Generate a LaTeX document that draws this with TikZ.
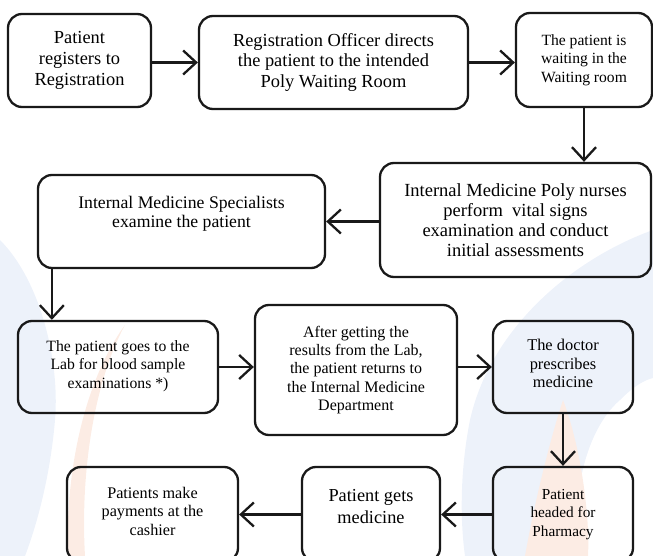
\documentclass[tikz,border=0pt]{standalone}
\usepackage{fontspec}
\setmainfont{Liberation Serif}
\newfontfamily\tnr{Liberation Serif}
\usetikzlibrary{arrows.meta,calc}
\definecolor{wmblue}{RGB}{237,242,250}
\definecolor{wmorange}{RGB}{252,236,228}
\tikzset{
  box/.style={draw=black!90, line width=2.3pt, rounded corners=14pt, align=center, inner sep=0pt},
  flow/.style={draw=black!90, line width=2.3pt, -{Straight Barb[length=13pt,width=24pt]}},
}
\newcommand{\fs}[2]{\tnr\fontsize{#1}{#2}\selectfont}
\begin{document}
\begin{tikzpicture}[x=1pt,y=-1pt]
\useasboundingbox (0,0) rectangle (653,556);
% faint background watermark
\fill[wmblue] (0,240) .. controls (40,280) and (60,360) .. (55,420) .. controls (50,480) and (35,530) .. (25,556) -- (0,556) -- cycle;
\fill[wmorange] (125,325) .. controls (95,380) and (80,470) .. (85,556) -- (68,556) .. controls (65,470) and (85,380) .. cycle;
\fill[wmblue] (653,230) .. controls (570,260) and (490,330) .. (470,420) .. controls (460,470) and (460,520) .. (465,556) -- (580,556) .. controls (570,500) and (585,430) .. (620,400) .. controls (635,385) and (645,380) .. (653,378) -- cycle;
\fill[wmorange] (563,400) .. controls (582,450) and (590,520) .. (588,556) -- (525,556) .. controls (535,500) and (550,440) .. cycle;
% boxes
\node[box,font=\fs{18.4}{21},minimum width=143pt,minimum height=93pt] (b1) at (79.5,60.5) {Patient\\registers to\\Registration};
\node[box,font=\fs{18.4}{20.3},minimum width=269pt,minimum height=93pt] (b2) at (333.5,62.5) {Registration Officer directs\\the patient to the intended\\Poly Waiting Room};
\node[box,font=\fs{15.6}{18.3},minimum width=136pt,minimum height=94pt] (b3) at (584,60) {The patient is\\waiting in the\\Waiting room};
\node[box,font=\fs{18.5}{20},minimum width=271pt,minimum height=114pt] (b4) at (515.5,220) {Internal Medicine Poly nurses\\perform~ vital signs\\examination and conduct\\initial assessments};
\node[box,font=\fs{17.7}{19},minimum width=287pt,minimum height=93pt] (b5) at (181.5,221.5) {Internal Medicine Specialists\\examine the patient\\\mbox{}};
\node[box,font=\fs{15.7}{18.3},minimum width=200pt,minimum height=92pt] (b6) at (118,367) {The patient goes to the\\Lab for blood sample\\examinations *)\\[-13pt]\mbox{}};
\node[box,font=\fs{16}{18.3},minimum width=202pt,minimum height=130pt] (b7) at (356,370) {After getting the\\results from the Lab,\\the patient returns to\\the Internal Medicine\\Department};
\node[box,font=\fs{16.4}{18.5},minimum width=140pt,minimum height=92pt] (b8) at (563,367) {The doctor\\prescribes\\medicine\\[-12pt]\mbox{}};
\node[box,font=\fs{15.3}{18.3},minimum width=140pt,minimum height=95pt] (b9) at (563,514.5) {Patient\\headed for\\Pharmacy};
\node[box,font=\fs{18.3}{22},minimum width=138pt,minimum height=95pt] (b10) at (371,514.5) {Patient gets\\medicine\\[-5pt]\mbox{}};
\node[box,font=\fs{16.2}{18.3},minimum width=171pt,minimum height=95pt] (b11) at (152.5,514.5) {Patients make\\payments at the\\cashier\\[-12pt]\mbox{}};
% connectors
\draw[flow] (b1.east |- b2.west) -- (b2.west);
\draw[flow] (b2.east) -- (b2.east -| b3.west);
\draw[flow] (b3.south) -- (b3.south |- b4.north);
\draw[flow] (b4.west |- b5.east) -- (b5.east);
\coordinate (a5) at ($(b5.south west)+(15,0)$);
\draw[flow] (a5) -- (a5 |- b6.north);
\draw[flow] (b6.east) -- (b6.east -| b7.west);
\draw[flow] (b8.west -| b7.east) -- (b8.west);
\draw[flow] (b8.south) -- (b9.north);
\draw[flow] (b9.west) -- (b9.west -| b10.east);
\draw[flow] (b10.west) -- (b10.west -| b11.east);
\end{tikzpicture}
\end{document}
